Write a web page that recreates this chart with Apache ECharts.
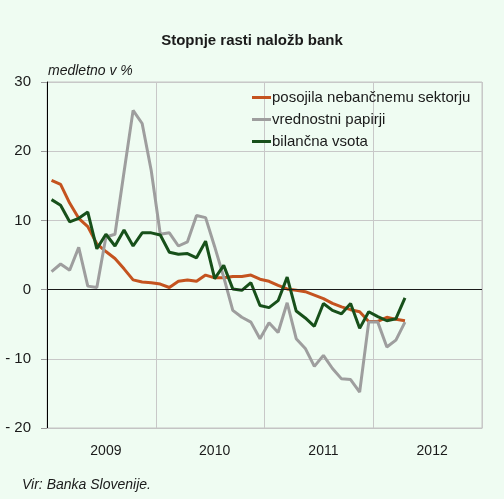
<!DOCTYPE html>
<html>
<head>
<meta charset="utf-8">
<script src="https://cdn.jsdelivr.net/npm/echarts@6/dist/echarts.min.js"></script>
<style>
  html, body { margin: 0; padding: 0; background: #ffffff; }
  #chart { width: 504px; height: 499px; }
</style>
</head>
<body>
<div id="chart"></div>
<script>
// meseci jan 2009 - dec 2012
var years = ['2009', '2010', '2011', '2012'];
var months = [];
years.forEach(function (y) {
    for (var m = 1; m <= 12; m++) {
        months.push(y + '-' + (m < 10 ? '0' + m : m));
    }
});

// medletne stopnje rasti, jan 2009 - apr 2012
var posojila = [15.8, 15.2, 12.5, 10.3, 9.1, 6.6, 5.5, 4.5, 3.0, 1.4, 1.1, 1.0,
    0.8, 0.3, 1.2, 1.4, 1.2, 2.1, 1.7, 1.7, 1.9, 1.9, 2.1, 1.5,
    1.2, 0.6, 0.1, -0.1, -0.3, -0.8, -1.3, -2.0, -2.5, -2.9, -3.2, -4.6,
    -4.6, -4.0, -4.3, -4.5];
var papirji = [2.6, 3.7, 2.8, 6.1, 0.5, 0.3, 7.6, 8.0, 17.0, 25.9, 24.0, 17.2,
    8.0, 8.2, 6.3, 6.9, 10.7, 10.4, 6.2, 1.8, -3.0, -4.0, -4.7, -7.1,
    -4.8, -6.2, -1.9, -7.1, -8.5, -11.1, -9.5, -11.4, -12.9, -13.0, -14.8, -4.7,
    -4.7, -8.3, -7.3, -4.7];
var vsota = [13.0, 12.2, 9.8, 10.3, 11.2, 5.9, 8.0, 6.3, 8.6, 6.3, 8.2, 8.2,
    7.9, 5.4, 5.1, 5.2, 4.6, 7.0, 1.6, 3.5, 0.1, -0.1, 1.0, -2.3,
    -2.6, -1.6, 1.8, -3.1, -4.1, -5.3, -2.0, -3.0, -3.5, -2.0, -5.6, -3.2,
    -3.9, -4.5, -4.2, -1.2];

var fontName = '"Liberation Sans", Arial, sans-serif';
var chart = echarts.init(document.getElementById('chart'));

var option = {
    backgroundColor: '#effcf2',
    animation: false,
    textStyle: { fontFamily: fontName, color: '#1a1a1a' },
    title: {
        text: 'Stopnje rasti naložb bank',
        left: 'center',
        top: 28,
        textStyle: { fontSize: 15, fontWeight: 'bold', color: '#1a1a1a', fontFamily: fontName }
    },
    graphic: [
        {
            type: 'text', left: 48, top: 64,
            style: { text: 'medletno v %', font: 'italic 14px ' + fontName, fill: '#1a1a1a' }
        },
        {
            type: 'text', left: 22, top: 478,
            style: { text: 'Vir: Banka Slovenije.', font: 'italic 14px ' + fontName, fill: '#1a1a1a' }
        }
    ],
    legend: {
        orient: 'vertical',
        left: 247,
        top: 85,
        itemWidth: 19,
        itemHeight: 3,
        itemGap: 7,
        icon: 'rect',
        textStyle: { fontSize: 15, color: '#1a1a1a', fontFamily: fontName, padding: [0, 0, 0, -4] },
        data: ['posojila nebančnemu sektorju', 'vrednostni papirji', 'bilančna vsota']
    },
    grid: {
        left: 47, right: 22, top: 82, bottom: 71,
        show: true,
        borderColor: '#c4c4c4',
        borderWidth: 1,
        backgroundColor: 'transparent'
    },
    xAxis: {
        type: 'category',
        data: months,
        boundaryGap: true,
        axisLine: { onZero: false, lineStyle: { color: '#c4c4c4' } },
        axisTick: { show: false },
        splitLine: { show: true, interval: 11, lineStyle: { color: '#c8c8c8', width: 1 } },
        axisLabel: {
            interval: function (idx) { return idx % 12 === 6; },
            formatter: function (v) { return v.slice(0, 4); },
            fontSize: 14,
            color: '#1a1a1a',
            margin: 16
        }
    },
    yAxis: {
        type: 'value',
        min: -20,
        max: 30,
        interval: 10,
        axisLine: { show: true, lineStyle: { color: '#000000', width: 1 } },
        axisTick: { show: true, length: 6, lineStyle: { color: '#9a9a9a' } },
        splitLine: { lineStyle: { color: '#c8c8c8', width: 1 } },
        axisLabel: {
            fontSize: 15,
            color: '#1a1a1a',
            margin: 16,
            formatter: function (v) { return v < 0 ? '- ' + Math.abs(v) : String(v); }
        }
    },
    series: [
        {
            name: 'posojila nebančnemu sektorju',
            type: 'line',
            data: posojila,
            symbol: 'none',
            lineStyle: { color: '#c4531f', width: 3 },
            itemStyle: { color: '#c4531f' },
            markLine: {
                silent: true,
                symbol: 'none',
                label: { show: false },
                lineStyle: { color: '#1a1a1a', width: 1, type: 'solid' },
                data: [{ yAxis: 0 }]
            }
        },
        {
            name: 'vrednostni papirji',
            type: 'line',
            data: papirji,
            symbol: 'none',
            lineStyle: { color: '#9e9e9e', width: 3 },
            itemStyle: { color: '#9e9e9e' }
        },
        {
            name: 'bilančna vsota',
            type: 'line',
            data: vsota,
            symbol: 'none',
            lineStyle: { color: '#17501a', width: 3 },
            itemStyle: { color: '#17501a' }
        }
    ]
};

chart.setOption(option);
</script>
</body>
</html>
